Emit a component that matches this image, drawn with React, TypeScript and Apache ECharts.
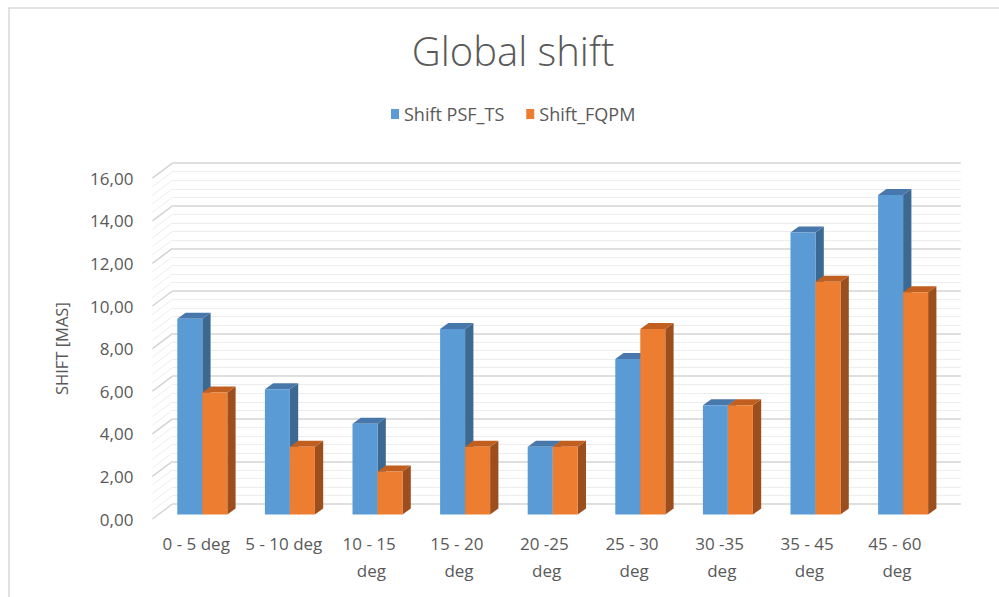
import React, { useEffect, useRef } from "react";
import * as echarts from "echarts";

// Angle ranges on the category axis
const categories = [
  "0 - 5 deg",
  "5 - 10 deg",
  "10 - 15 deg",
  "15 - 20 deg",
  "20 -25 deg",
  "25 - 30 deg",
  "30 -35 deg",
  "35 - 45 deg",
  "45 - 60 deg",
];

// Global shift per angle range, in MAS
const shiftPsfTs = [9.18, 5.88, 4.26, 8.7, 3.18, 7.29, 5.13, 13.23, 14.99];
const shiftFqpm = [5.72, 3.18, 2.01, 3.18, 3.18, 8.71, 5.13, 10.92, 10.43];

const seriesNames = ["Shift PSF_TS", "Shift_FQPM"];

// Value axis layout
const yMin = 0;
const yMax = 16;
const yInterval = 2;
const yMinorSplits = 5;

const TEXT = "#595959";
const FONT = "'Open Sans', 'Liberation Sans', sans-serif";

// Plane geometry: bars sit in a middle plane; the back wall and the label
// plane are shifted from it to give an oblique 3D look.
const PLANE_LEFT = 158.5;
const PLANE_TOP = 173.6;
const PLANE_W = 788.4;
const PLANE_H = 340.8;
const WALL_DX = 13.9;
const WALL_DY = -10.4;
const FRONT_DX = -6.1;
const FRONT_DY = 4.6;
const SIDE_DX = -20;
const SIDE_DY = 15;
const BAR_DEPTH_X = 8.3;
const BAR_DEPTH_Y = -6;
const BAR_FRACTION = 0.2854;

const palettes = [
  { front: "#5B9BD5", side: "#3C6991", top: "#4878AB" },
  { front: "#ED7D31", side: "#9C4F1C", top: "#C05F20" },
];

function barRenderer(slot: number) {
  const pal = palettes[slot];
  return (params: any, api: any) => {
    const idx = api.value(0);
    const v = api.value(1);
    const band = api.size([1, 0])[0];
    const w = band * BAR_FRACTION;
    const top = api.coord([idx, v]);
    const base = api.coord([idx, 0]);
    const x0 = top[0] - w + slot * w;
    const x1 = x0 + w;
    const yT = top[1];
    const yB = base[1];
    return {
      type: "group",
      children: [
        {
          type: "polygon",
          shape: {
            points: [
              [x1, yT],
              [x1 + BAR_DEPTH_X, yT + BAR_DEPTH_Y],
              [x1 + BAR_DEPTH_X, yB + BAR_DEPTH_Y],
              [x1, yB],
            ],
          },
          style: { fill: pal.side },
        },
        {
          type: "polygon",
          shape: {
            points: [
              [x0, yT],
              [x1, yT],
              [x1 + BAR_DEPTH_X, yT + BAR_DEPTH_Y],
              [x0 + BAR_DEPTH_X, yT + BAR_DEPTH_Y],
            ],
          },
          style: { fill: pal.top },
        },
        {
          type: "rect",
          shape: { x: x0, y: yT, width: w, height: yB - yT },
          style: { fill: pal.front },
        },
      ],
    };
  };
}

// Lines on the left side wall, one per major and minor gridline
const wallTicks: number[][] = [];
{
  const step = yInterval / yMinorSplits;
  const count = Math.round((yMax - yMin) / step);
  for (let k = 0; k <= count; k++) wallTicks.push([0, yMin + k * step, k % yMinorSplits === 0 ? 1 : 0]);
}

function sideWallRenderer(params: any, api: any) {
  const v = api.value(1);
  const major = api.value(2) === 1;
  const xL = params.coordSys.x;
  const y = api.coord([0, v])[1];
  return {
    type: "line",
    shape: { x1: xL, y1: y, x2: xL + SIDE_DX, y2: y + SIDE_DY },
    style: { stroke: major ? "#D4D4D4" : "#EDEDED", lineWidth: major ? 1.5 : 1 },
  };
}

const fmt = (v: number) => v.toFixed(2).replace(".", ",");

export default function App() {
  const ref = useRef<HTMLDivElement>(null);

  useEffect(() => {
    if (!ref.current) return;
    const chart = echarts.init(ref.current, undefined, { renderer: "svg" });

    const grids = [
      { left: PLANE_LEFT, top: PLANE_TOP, width: PLANE_W, height: PLANE_H },
      { left: PLANE_LEFT + FRONT_DX, top: PLANE_TOP + FRONT_DY, width: PLANE_W, height: PLANE_H },
      { left: PLANE_LEFT + WALL_DX, top: PLANE_TOP + WALL_DY, width: PLANE_W, height: PLANE_H },
    ];

    const option: any = {
      animation: false,
      backgroundColor: "#ffffff",
      title: {
        text: "Global shift",
        left: 508,
        textAlign: "center",
        top: 25,
        textStyle: { fontFamily: FONT, fontSize: 40, fontWeight: 300, color: TEXT },
      },
      legend: {
        data: seriesNames,
        left: 386,
        top: 100,
        icon: "rect",
        itemWidth: 8,
        itemHeight: 10,
        itemGap: 22,
        textStyle: { fontFamily: FONT, fontSize: 18, color: TEXT },
      },
      graphic: [
        {
          type: "rect",
          shape: { x: 9, y: 8, width: 1200, height: 800 },
          style: { fill: "none", stroke: "#D9D9D9", lineWidth: 1.5 },
          silent: true,
          z: -10,
        },
      ],
      grid: grids,
      xAxis: [
        { type: "category", gridIndex: 0, data: categories, show: false },
        {
          type: "category",
          gridIndex: 1,
          data: categories,
          axisLine: { show: false },
          axisTick: { show: false },
          splitLine: { show: false },
          axisLabel: {
            interval: 0,
            margin: 11,
            width: 80,
            overflow: "break",
            lineHeight: 27,
            fontFamily: FONT,
            fontSize: 17,
            color: TEXT,
          },
        },
        { type: "category", gridIndex: 2, data: categories, show: false },
      ],
      yAxis: [
        { type: "value", gridIndex: 0, min: yMin, max: yMax, interval: yInterval, show: false },
        {
          type: "value",
          gridIndex: 1,
          min: yMin,
          max: yMax,
          interval: yInterval,
          axisLine: { show: false },
          axisTick: { show: false },
          splitLine: { show: false },
          axisLabel: { margin: 19, formatter: fmt, fontFamily: FONT, fontSize: 17, color: TEXT },
          name: "SHIFT [MAS]",
          nameLocation: "middle",
          nameGap: 82,
          nameRotate: 90,
          nameTextStyle: { fontFamily: FONT, fontSize: 16.5, color: TEXT },
        },
        {
          type: "value",
          gridIndex: 2,
          min: yMin,
          max: yMax,
          interval: yInterval,
          splitNumber: 8,
          axisLine: { show: false },
          axisTick: { show: false },
          axisLabel: { show: false },
          splitLine: { show: true, lineStyle: { color: "#D4D4D4", width: 1.5 } },
          minorTick: { show: false, splitNumber: yMinorSplits },
          minorSplitLine: { show: true, lineStyle: { color: "#EDEDED", width: 1 } },
        },
      ],
      series: [
        {
          type: "custom",
          name: "wall",
          xAxisIndex: 2,
          yAxisIndex: 2,
          silent: true,
          renderItem: sideWallRenderer,
          encode: { x: 0, y: 1 },
          data: wallTicks,
          z: 1,
        },
        {
          type: "custom",
          name: seriesNames[0],
          xAxisIndex: 0,
          yAxisIndex: 0,
          itemStyle: { color: palettes[0].front },
          renderItem: barRenderer(0),
          encode: { x: 0, y: 1 },
          data: shiftPsfTs.map((v, i) => [i, v]),
          z: 3,
        },
        {
          type: "custom",
          name: seriesNames[1],
          xAxisIndex: 0,
          yAxisIndex: 0,
          itemStyle: { color: palettes[1].front },
          renderItem: barRenderer(1),
          encode: { x: 0, y: 1 },
          data: shiftFqpm.map((v, i) => [i, v]),
          z: 4,
        },
      ],
    };

    chart.setOption(option);
    return () => chart.dispose();
  }, []);

  return (
    <div
      ref={ref}
      style={{ position: "fixed", left: 0, top: 0, width: 999, height: 597 }}
    />
  );
}
